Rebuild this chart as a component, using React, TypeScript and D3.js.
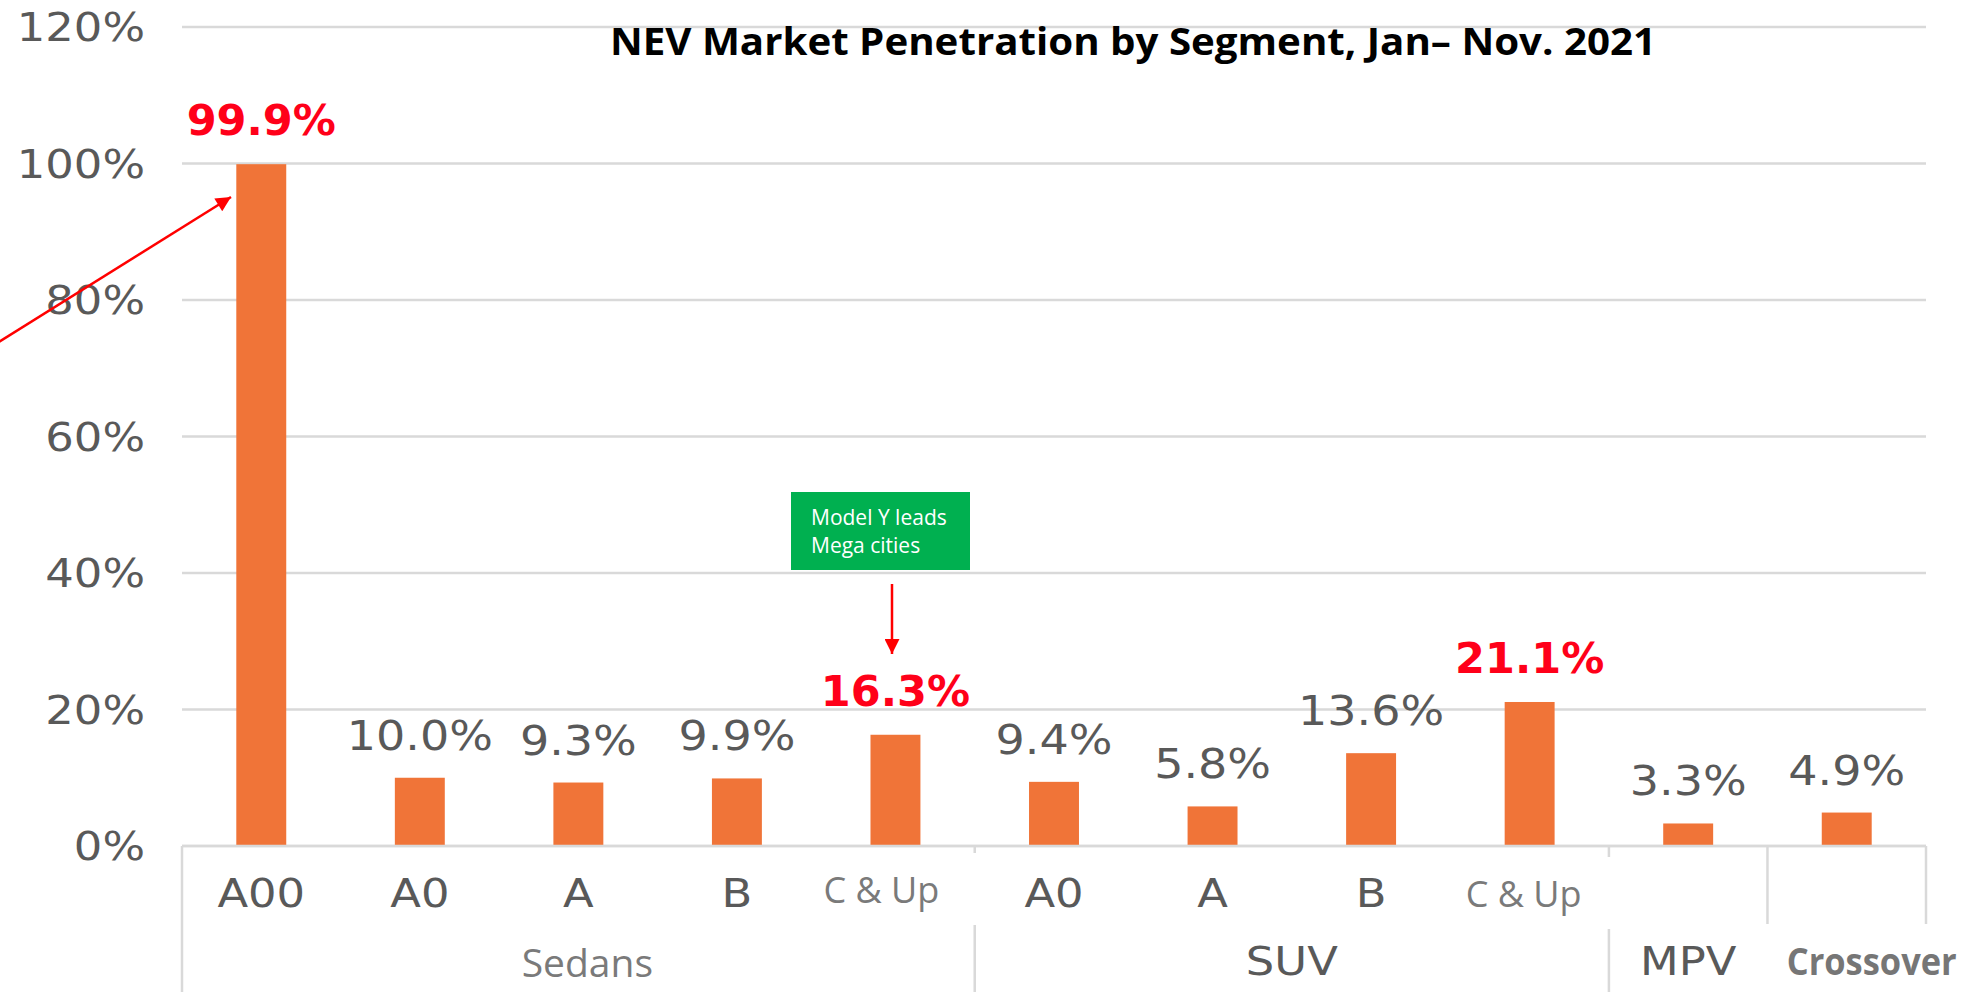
import React from "react";
import * as d3 from "d3";

// ---------- data ----------
const groups = ["Sedans", "SUV", "MPV", "Crossover"];
const groupOf = [0, 0, 0, 0, 0, 1, 1, 1, 1, 2, 3];
const classLabels = ["A00", "A0", "A", "B", "C & Up", "A0", "A", "B", "C & Up", "", ""];
const penetration = [99.9, 10.0, 9.3, 9.9, 16.3, 9.4, 5.8, 13.6, 21.1, 3.3, 4.9];
const highlighted = [true, false, false, false, true, false, false, false, true, false, false];
const yTicks = [0, 20, 40, 60, 80, 100, 120];
const title = "NEV Market Penetration by Segment, Jan\u2013 Nov. 2021";
const noteLines = ["Model Y leads", "Mega cities"];

// ---------- layout ----------
const W = 1981;
const H = 992;
const left = 182;
const right = 1926;
const top = 27;
const base = 846;
const GRAY = "#595959";
const LIGHT = "#7a7a7a";
const GRID = "#d9d9d9";
const BAR = "#F07438";
const RED = "#FF0019";
const SX = 1.15;
const DEJA = "'DejaVu Sans', sans-serif";
const OPEN = "'Open Sans', sans-serif";

export default function App() {
  const idx = d3.range(penetration.length);
  const x = d3.scaleBand<number>().domain(idx).range([left, right]).padding(0);
  const y = d3.scaleLinear().domain([0, 120]).range([base, top]);
  const bw = x.bandwidth() * 0.315;
  const cx = (i: number) => (x(i) as number) + x.bandwidth() / 2;

  // group extents
  const groupExt = groups.map((g, gi) => {
    const members = idx.filter((i) => groupOf[i] === gi);
    const x0 = x(members[0]) as number;
    const x1 = (x(members[members.length - 1]) as number) + x.bandwidth();
    return { name: g, x0, x1 };
  });
  const boundaries = [...groupExt.map((g) => g.x0), right];

  const stretched = (
    key: string | number,
    tx: number,
    ty: number,
    txt: string,
    size: number,
    fill: string,
    anchor: "start" | "middle" | "end",
    weight: number | string = 400,
    family = DEJA,
    sx = SX
  ) => (
    <text
      key={key}
      transform={`translate(${tx},${ty}) scale(${sx},1)`}
      textAnchor={anchor}
      fontFamily={family}
      fontSize={size}
      fontWeight={weight}
      fill={fill}
    >
      {txt}
    </text>
  );

  return (
    <svg
      width={W}
      height={H}
      viewBox={`0 0 ${W} ${H}`}
      style={{ position: "absolute", left: 0, top: 0, display: "block", background: "#fff" }}
    >
      <defs>
        <marker
          id="redHead"
          viewBox="0 0 10 10"
          refX="10"
          refY="5"
          markerWidth="20"
          markerHeight="15"
          markerUnits="userSpaceOnUse"
          orient="auto"
        >
          <path d="M0,0 L10,5 L0,10 z" fill="#FF0000" />
        </marker>
      </defs>
      <rect x={0} y={0} width={W} height={H} fill="#fff" />

      {/* gridlines */}
      {yTicks.map((t) => (
        <line key={"g" + t} x1={left} x2={right} y1={y(t)} y2={y(t)} stroke={GRID} strokeWidth={2.5} />
      ))}

      {/* y tick labels */}
      {yTicks.map((t) => stretched("yt" + t, 145, y(t) + 14, `${t}%`, 39, GRAY, "end"))}

      {/* bars */}
      {penetration.map((v, i) => (
        <rect key={"b" + i} x={cx(i) - bw / 2} y={y(v)} width={bw} height={y(0) - y(v)} fill={BAR} />
      ))}

      {/* axis separators */}
      {boundaries.map((bx, i) => (
        <line key={"sep" + i} x1={bx} x2={bx} y1={base} y2={H} stroke={GRID} strokeWidth={2.5} />
      ))}
      <line x1={left} x2={right} y1={base} y2={base} stroke={GRID} strokeWidth={2.5} />

      {/* data labels */}
      {penetration.map((v, i) =>
        highlighted[i]
          ? stretched("dl" + i, cx(i), y(v) - 29, `${v.toFixed(1)}%`, 43, RED, "middle", 700, DEJA, 1.0)
          : stretched("dl" + i, cx(i), y(v) - 28, `${v.toFixed(1)}%`, 40, GRAY, "middle")
      )}

      {/* category labels */}
      {classLabels.map((c, i) => {
        if (!c) return null;
        if (c === "C & Up") return null;
        return stretched("cl" + i, cx(i), 907, c, 39, GRAY, "middle");
      })}

      {/* pasted "C & Up" text boxes */}
      {classLabels.map((c, i) => {
        if (c !== "C & Up") return null;
        const first = groupOf[i] === 0;
        const tx = first ? cx(i) - 14 : cx(i) - 6;
        const ty = first ? 903 : 907;
        const bx0 = first ? tx - 82 : tx - 77;
        const bx1 = first ? tx + 100 : tx + 91;
        const by0 = first ? 853 : 857;
        return (
          <g key={"cu" + i}>
            <rect x={bx0} y={by0} width={bx1 - bx0} height={72} fill="#fff" />
            <text x={tx} y={ty} textAnchor="middle" fontFamily={OPEN} fontSize={36} fill={LIGHT}>
              {c}
            </text>
          </g>
        );
      })}

      {/* group labels */}
      {groupExt.map((g, gi) => {
        const mid = (g.x0 + g.x1) / 2;
        if (g.name === "Sedans") {
          return (
            <text key="gs" x={mid + 9} y={977} textAnchor="middle" fontFamily={OPEN} fontSize={39} fill={LIGHT}>
              {g.name}
            </text>
          );
        }
        if (g.name === "Crossover") {
          return (
            <g key="gc">
              <rect x={g.x0 - 3} y={924} width={W - g.x0 + 3} height={H - 924} fill="#fff" />
              <text
                x={mid + 25}
                y={975}
                textAnchor="middle"
                fontFamily={OPEN}
                fontSize={38}
                fontWeight={700}
                fill="#767676"
                textLength={170}
                lengthAdjust="spacingAndGlyphs"
              >
                {g.name}
              </text>
            </g>
          );
        }
        return stretched("gl" + gi, mid, 975, g.name, 39, GRAY, "middle");
      })}

      {/* title */}
      <text
        x={1133}
        y={55}
        textAnchor="middle"
        fontFamily={OPEN}
        fontWeight={700}
        fontSize={38}
        fill="#000"
        textLength={1046}
        lengthAdjust="spacingAndGlyphs"
      >
        {title}
      </text>

      {/* annotation box */}
      <rect x={791} y={492} width={179} height={78} fill="#00B050" />
      {noteLines.map((l, i) => (
        <text key={"n" + i} x={811} y={525 + i * 28} fontFamily={OPEN} fontSize={21} fill="#fff">
          {l}
        </text>
      ))}

      {/* arrows */}
      <line x1={892} y1={584} x2={892} y2={654} stroke="#FF0000" strokeWidth={2.5} markerEnd="url(#redHead)" />
      <line x1={-6} y1={345} x2={231} y2={197} stroke="#FF0000" strokeWidth={2.5} markerEnd="url(#redHead)" />
    </svg>
  );
}
